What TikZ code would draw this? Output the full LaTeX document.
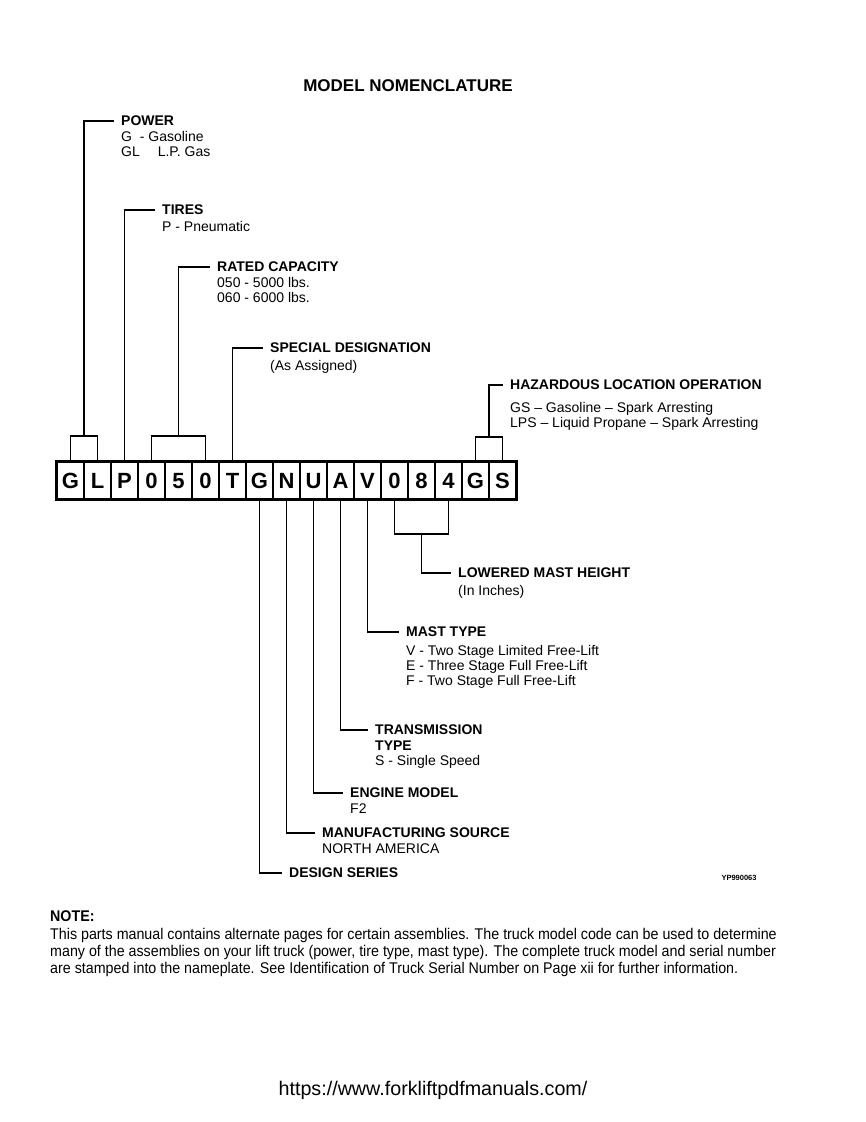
\documentclass[tikz,border=0pt]{standalone}
\usepackage{fontspec}
\setmainfont{Liberation Sans}
\newfontfamily\narrowfont{Liberation Sans}[FakeStretch=0.92]
\usetikzlibrary{calc}
\newcommand\lblfont{\fontsize{14}{15}\selectfont}
\tikzset{
  conn/.style={line width=1.8pt},
  lbl/.style={font=\lblfont\bfseries, anchor=west, inner xsep=7pt, inner ysep=0pt},
  desc/.style={font=\lblfont, anchor=north west, align=left, inner sep=0pt},
  cell/.style={draw, line width=1.3pt, minimum width=27pt, minimum height=37pt, inner sep=0pt,
    text height=16pt, text depth=0pt,
    font=\fontsize{22}{22}\selectfont\bfseries},
}
\begin{document}
\begin{tikzpicture}[x=1pt,y=-1pt]
\fill[white] (0,0) rectangle (866,1122);
\useasboundingbox (0,0) rectangle (866,1122);

\node[font=\fontsize{17}{17}\selectfont\bfseries] (title) at (408,86) {MODEL NOMENCLATURE};

% code cells
\foreach \ch [count=\i] in {G,L,P,0,5,0,T,G,N,U,A,V,0,8,4,G,S}
  \node[cell] (c\i) at ({57+27*(\i-0.5)},480.5) {\ch};
\draw[line width=2.6pt] (c1.north west) rectangle (c17.south east);

% labels above
\node[lbl] (pow) at (114,121) {POWER};
\node[desc] (powd) at (121,131) {G\ \ -\ Gasoline\\GL\quad\ L.P. Gas};
\node[lbl] (tir) at (155,210) {TIRES};
\node[desc] (tird) at (162,221) {P - Pneumatic};
\node[lbl] (rat) at (210,267) {RATED CAPACITY};
\node[desc] (ratd) at (217,277) {050 - 5000 lbs.\\060 - 6000 lbs.};
\node[lbl] (spe) at (263,348) {SPECIAL DESIGNATION};
\node[desc] (sped) at (270,360) {(As Assigned)};
\node[lbl] (haz) at (503,385) {HAZARDOUS LOCATION OPERATION};
\node[desc] (hazd) at (510,402) {GS -- Gasoline -- Spark Arresting\\LPS -- Liquid Propane -- Spark Arresting};

% labels below
\node[lbl] (low) at (451,573) {LOWERED MAST HEIGHT};
\node[desc] (lowd) at (458,585) {(In Inches)};
\node[lbl] (mst) at (399,632) {MAST TYPE};
\node[desc] (mstd) at (406,645) {V - Two Stage Limited Free-Lift\\E - Three Stage Full Free-Lift\\F - Two Stage Full Free-Lift};
\node[lbl] (trn) at (368,730) {TRANSMISSION};
\node[desc] (trnd) at (375,741) {\textbf{TYPE}\\S - Single Speed};
\node[lbl] (eng) at (343,793) {ENGINE MODEL};
\node[desc] (engd) at (350,804) {F2};
\node[lbl] (man) at (315,833) {MANUFACTURING SOURCE};
\node[desc] (mand) at (322,844) {NORTH AMERICA};
\node[lbl] (des) at (282,873) {DESIGN SERIES};

\node[font=\fontsize{7.5}{7.5}\selectfont\bfseries, anchor=west] (ref) at (718,878) {YP990063};

% top connectors
\coordinate (b1) at ($(c1.north)!0.5!(c2.north)+(0,-25)$);
\draw[conn] (c1.north) |- (b1) -| (c2.north);
\draw[conn] (b1) |- (pow.west);
\draw[conn] (c3.north) |- (tir.west);
\coordinate (b2) at ($(c4.north)!0.5!(c6.north)+(0,-25)$);
\draw[conn] (c4.north) |- (b2) -| (c6.north);
\draw[conn] (b2) |- (rat.west);
\draw[conn] (c7.north) |- (spe.west);
\coordinate (b3) at ($(c16.north)!0.5!(c17.north)+(0,-24)$);
\draw[conn] (c16.north) |- (b3) -| (c17.north);
\draw[conn] (b3) |- (haz.west);

% bottom connectors
\coordinate (b4) at ($(c13.south)!0.5!(c15.south)+(0,34)$);
\draw[conn] (c13.south) |- (b4) -| (c15.south);
\draw[conn] (b4) |- (low.west);
\draw[conn] (c12.south) |- (mst.west);
\draw[conn] (c11.south) |- (trn.west);
\draw[conn] (c10.south) |- (eng.west);
\draw[conn] (c9.south) |- (man.west);
\draw[conn] (c8.south) |- (des.west);

% note
\node[anchor=north west, align=left, inner sep=0pt, font=\narrowfont\fontsize{15.5}{16.8}\selectfont] (note) at (50,910)
  {\textbf{NOTE:}\\[2pt]
   This parts manual contains alternate pages for certain assemblies. The truck model code can be used to determine\\
   many of the assemblies on your lift truck (power, tire type, mast type). The complete truck model and serial number\\
   are stamped into the nameplate. See Identification of Truck Serial Number on Page xii for further information.};

\node[font=\fontsize{19.7}{20}\selectfont] (url) at (433,1090) {https://www.forkliftpdfmanuals.com/};
\end{tikzpicture}
\end{document}
